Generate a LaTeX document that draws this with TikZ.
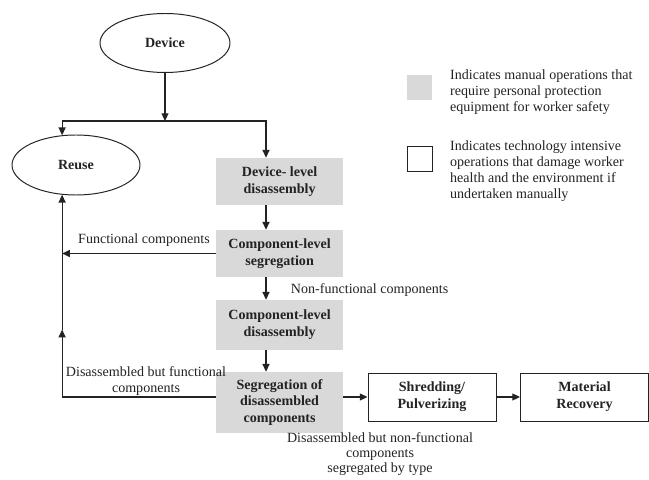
\documentclass[tikz,border=0pt]{standalone}
\usepackage{fontspec}
\setmainfont{Liberation Serif}
\usetikzlibrary{positioning,calc}
\usetikzlibrary{shapes.geometric,arrows.meta}
\definecolor{manual}{RGB}{217, 217, 217}
\definecolor{ink}{RGB}{35, 35, 35}
\tikzset{
  oval/.style={draw=ink, ellipse, line width=0.7pt, font=\bfseries, text=ink},
  manualbox/.style={fill=manual, minimum width=3.175cm, align=center, font=\bfseries, text=ink},
  techbox/.style={draw=ink, line width=0.7pt, minimum width=3.2cm, minimum height=1.2cm, align=center, font=\bfseries, text=ink},
  flow/.style={-{Triangle[length=5.5pt,width=5pt]}, line width=0.8pt, draw=ink},
  note/.style={align=center, text=ink, font=\fontsize{10}{11.3}\selectfont},
}
\begin{document}
\begin{tikzpicture}
        \useasboundingbox (0,0) rectangle (16.225,11.975);

        \node[oval, minimum width=3.25cm, minimum height=1.475cm] (device) at (4.125,10.9) {Device};
        \node[oval, minimum width=3.2cm, minimum height=1.5cm] (reuse) at (1.9,7.85) {Reuse};

        \node[manualbox, minimum height=1.175cm] (devdis) at (6.99,7.4375) {Device- level\\disassembly};
        \node[manualbox, minimum height=1.175cm] (compseg) at (6.99,5.6375) {Component-level\\segregation};
        \node[manualbox, minimum height=1.25cm] (compdis) at (6.99,3.85) {Component-level\\disassembly};
        \node[manualbox, minimum height=1.525cm] (segdis) at (6.99,1.9125) {Segregation of\\disassembled\\components};
        \node[techbox] (shred) at (10.8,2.05) {Shredding/\\Pulverizing};
        \node[techbox] (matrec) at (14.6125,2.05) {Material\\Recovery};

        \coordinate (split) at (4.125,8.95);
        \coordinate (spine) at (6.65,0);
        \coordinate (rise) at ($(reuse.245)+(0,-3.37)$);

        \draw[flow] (device) -- (split);
        \draw[flow] (split) -| (reuse.115);
        \draw[flow] (split) -| (devdis.north -| spine);
        \draw[flow] (devdis.south -| spine) -- (compseg.north -| spine);
        \draw[flow] (compseg.south -| spine) -- (compdis.north -| spine);
        \draw[flow] (compdis.south -| spine) -- (segdis.north -| spine);
        \draw[flow] (compseg.west) -- (compseg.west -| rise);
        \draw[flow] (segdis.west |- shred.west) -| (rise);
        \draw[flow] (rise) -- (reuse.245);
        \draw[flow] (segdis.east |- shred.west) -- (shred.west);
        \draw[flow] (shred) -- (matrec);

        \node[note] (funclbl) at (3.6,5.97) {Functional components};
        \node[note, anchor=west] (nonfunclbl) at (7.15,4.72) {Non-functional components};
        \node[note] (dbflbl) at (3.65,2.45) {Disassembled but functional\\components};
        \node[note, anchor=north, inner sep=1pt, font=\fontsize{10}{10.8}\selectfont] (dnflbl) at (9.5,1.2) {Disassembled but non-functional\\components\\segregated by type};

        \node[fill=manual, minimum size=0.625cm, inner sep=0] (keymanual) at (10.49,9.775) {};
        \node[draw=ink, line width=0.6pt, minimum size=0.625cm, inner sep=0] (keytech) at (10.49,7.99) {};
        \node[note, align=left, anchor=west] (manualtxt) at (11.13,9.675) {Indicates manual operations that\\require personal protection\\equipment for worker safety};
        \node[note, align=left, anchor=west] (techtxt) at (11.13,7.7) {Indicates technology intensive\\operations that damage worker\\health and the environment if\\undertaken manually};
\end{tikzpicture}
\end{document}
